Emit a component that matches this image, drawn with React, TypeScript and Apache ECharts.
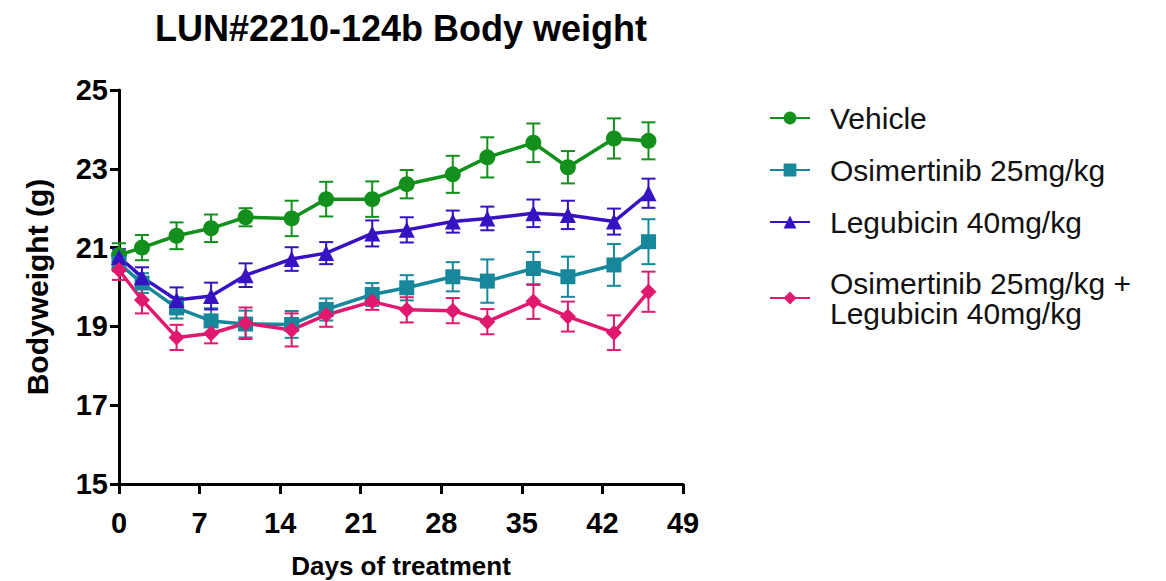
import React, { useEffect, useRef } from "react";
import * as echarts from "echarts";

// Measurement days
const days = [0, 2, 5, 8, 11, 15, 18, 22, 25, 29, 32, 36, 39, 43, 46];

// Mean body weight (g) per group
const vehicleMean = [20.81, 21.0, 21.3, 21.49, 21.77, 21.74, 22.23, 22.23, 22.61, 22.86, 23.29, 23.66, 23.04, 23.77, 23.71];
const osiMean = [20.6, 20.1, 19.47, 19.14, 19.06, 19.05, 19.43, 19.81, 19.98, 20.26, 20.15, 20.47, 20.26, 20.56, 21.15];
const leguMean = [20.76, 20.25, 19.67, 19.77, 20.3, 20.71, 20.86, 21.36, 21.45, 21.66, 21.74, 21.87, 21.83, 21.66, 22.38];
const comboMean = [20.43, 19.67, 18.72, 18.82, 19.08, 18.91, 19.29, 19.63, 19.42, 19.4, 19.12, 19.63, 19.25, 18.84, 19.88];

// SEM per group
const vehicleSem = [0.3, 0.32, 0.34, 0.35, 0.23, 0.45, 0.44, 0.45, 0.36, 0.47, 0.51, 0.49, 0.41, 0.51, 0.47];
const osiSem = [0.2, 0.25, 0.27, 0.32, 0.34, 0.34, 0.28, 0.29, 0.32, 0.37, 0.55, 0.42, 0.51, 0.53, 0.57];
const leguSem = [0.2, 0.25, 0.32, 0.34, 0.3, 0.3, 0.28, 0.33, 0.32, 0.28, 0.3, 0.35, 0.36, 0.33, 0.37];
const comboSem = [0.25, 0.34, 0.32, 0.25, 0.4, 0.42, 0.3, 0.21, 0.32, 0.32, 0.32, 0.44, 0.38, 0.44, 0.51];

const groupNames = [
  "Vehicle",
  "Osimertinib 25mg/kg",
  "Legubicin 40mg/kg",
  "Osimertinib 25mg/kg +\nLegubicin 40mg/kg",
];

const xTicks = { min: 0, max: 49, interval: 7 };
const yTicks = { min: 15, max: 25, interval: 2 };

const FONT = "'Liberation Sans', Arial, Helvetica, sans-serif";

export default function App() {
  const ref = useRef<HTMLDivElement>(null);

  useEffect(() => {
    if (!ref.current) return;
    const chart = echarts.init(ref.current, null, { renderer: "svg" });

    const groups = [
      { name: groupNames[0], mean: vehicleMean, sem: vehicleSem, color: "#13901c", symbol: "circle", size: 16 },
      { name: groupNames[1], mean: osiMean, sem: osiSem, color: "#17879b", symbol: "rect", size: 15 },
      { name: groupNames[2], mean: leguMean, sem: leguSem, color: "#3712c2", symbol: "triangle", size: 16 },
      { name: groupNames[3], mean: comboMean, sem: comboSem, color: "#e0196f", symbol: "diamond", size: 16 },
    ];

    const lineSeries = groups.map((g) => ({
      type: "line",
      name: g.name,
      data: days.map((d, i) => [d, g.mean[i]]),
      symbol: g.symbol,
      symbolSize: g.size,
      showAllSymbol: true,
      lineStyle: { color: g.color, width: 3.5 },
      itemStyle: { color: g.color },
      z: 3,
    }));

    const errorSeries = groups.map((g) => ({
      type: "custom",
      name: g.name + " SEM",
      data: days.map((d, i) => [d, g.mean[i] - g.sem[i], g.mean[i] + g.sem[i]]),
      encode: { x: 0, y: [1, 2] },
      z: 2,
      renderItem: (params: any, api: any) => {
        const lo = api.coord([api.value(0), api.value(1)]);
        const hi = api.coord([api.value(0), api.value(2)]);
        const half = 7;
        const style = { stroke: g.color, lineWidth: 2 };
        return {
          type: "group",
          children: [
            { type: "line", shape: { x1: lo[0], y1: lo[1], x2: hi[0], y2: hi[1] }, style },
            { type: "line", shape: { x1: lo[0] - half, y1: lo[1], x2: lo[0] + half, y2: lo[1] }, style },
            { type: "line", shape: { x1: hi[0] - half, y1: hi[1], x2: hi[0] + half, y2: hi[1] }, style },
          ],
        };
      },
    }));

    const legendText = {
      fontFamily: FONT,
      fontSize: 30,
      color: "#111",
      lineHeight: 30,
      padding: [0, 0, 0, 15],
    };

    chart.setOption({
      animation: false,
      backgroundColor: "#fff",
      title: {
        text: "LUN#2210-124b Body weight",
        left: 396,
        top: 5,
        textAlign: "center",
        textStyle: { fontFamily: FONT, fontSize: 36, fontWeight: "bold", color: "#000" },
      },
      grid: {
        left: 119,
        right: 483,
        top: 90,
        bottom: 97,
        containLabel: false,
        outerBoundsMode: "none",
      },
      legend: [
        {
          data: groupNames.slice(0, 3),
          orient: "vertical",
          left: 764,
          top: 98,
          itemGap: 22,
          itemWidth: 40,
          itemHeight: 16,
          textStyle: legendText,
        },
        {
          data: groupNames.slice(3),
          orient: "vertical",
          left: 764,
          top: 263,
          itemWidth: 40,
          itemHeight: 16,
          textStyle: legendText,
        },
      ],
      xAxis: {
        type: "value",
        ...xTicks,
        name: "Days of treatment",
        nameLocation: "middle",
        nameGap: 69,
        nameTextStyle: { fontFamily: FONT, fontSize: 26, fontWeight: "bold", color: "#000" },
        axisLine: { show: true, lineStyle: { color: "#000", width: 3 } },
        axisTick: { show: true, inside: false, length: 10, lineStyle: { color: "#000", width: 3 } },
        axisLabel: { fontFamily: FONT, fontSize: 29, fontWeight: "bold", color: "#000", margin: 24 },
        splitLine: { show: false },
      },
      yAxis: {
        type: "value",
        ...yTicks,
        name: "Bodyweight (g)",
        nameLocation: "middle",
        nameGap: 67,
        nameRotate: 90,
        nameTextStyle: { fontFamily: FONT, fontSize: 30, fontWeight: "bold", color: "#000" },
        axisLine: { show: true, lineStyle: { color: "#000", width: 3 } },
        axisTick: { show: true, inside: false, length: 9, lineStyle: { color: "#000", width: 3 } },
        axisLabel: { fontFamily: FONT, fontSize: 29, fontWeight: "bold", color: "#000", margin: 11 },
        splitLine: { show: false },
      },
      series: [...errorSeries, ...lineSeries],
    });

    return () => chart.dispose();
  }, []);

  return (
    <div
      ref={ref}
      style={{ position: "absolute", left: 0, top: 0, width: 1166, height: 581 }}
    />
  );
}
